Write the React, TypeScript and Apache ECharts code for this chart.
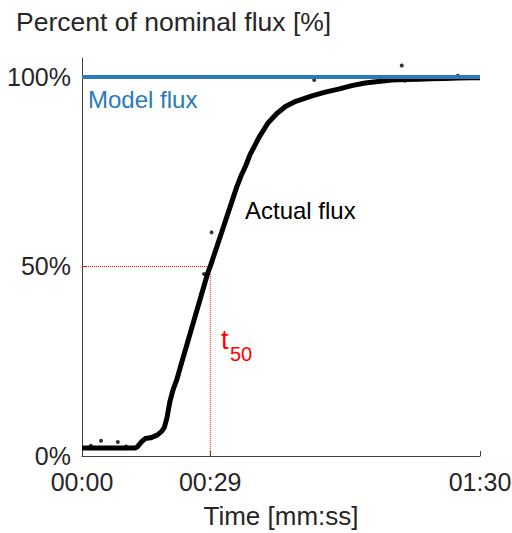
import React, { useEffect, useRef } from "react";
import * as echarts from "echarts";

const fluxTimes = [0, 3, 6, 9, 12, 12.5, 13.5, 14.3, 15.5, 17, 18, 18.6, 19.2, 19.9, 20.6, 21.4, 22.5, 23.5, 24.5, 25.5, 26.5, 27.5, 28.5, 29, 30, 31, 32, 33, 34, 35, 36, 37, 38, 40, 42, 44, 46, 48, 50, 52, 55, 58, 61, 64, 67, 70, 73, 76, 79, 82, 85, 88, 90];
const fluxValues = [2.1, 2.1, 2.1, 2.1, 2.1, 2.4, 3.8, 4.6, 4.8, 5.5, 6.5, 7.5, 10, 14.5, 17.5, 20, 24.5, 28.5, 32.5, 36.5, 40.5, 44.5, 48.5, 50, 53.5, 57, 60.5, 64, 67.5, 71, 74, 76.5, 79.5, 84, 87.8, 90.3, 92.2, 93.4, 94.2, 95, 96, 96.8, 97.7, 98.4, 98.8, 99.2, 99.3, 99.4, 99.5, 99.6, 99.7, 99.8, 99.8];
const outlierTimes = [2, 4.3, 8.1, 10, 27.6, 29.3, 52.5, 72.3, 73, 85];
const outlierValues = [2.7, 4, 3.7, 2.5, 48, 59, 99.2, 103, 99, 100.3];
const modelTimes = [0, 90];
const modelValues = [100, 100];
const t50 = 29;
const xTicks = [0, 29, 90];
const yTicks = [0, 50, 100];

const fmtTime = (v: number) => {
  const m = Math.floor(v / 60);
  const s = Math.round(v - m * 60);
  return `${String(m).padStart(2, "0")}:${String(s).padStart(2, "0")}`;
};

export default function App() {
  const ref = useRef<HTMLDivElement>(null);
  useEffect(() => {
    document.body.style.margin = "0";
    if (!ref.current) return;
    const chart = echarts.init(ref.current, undefined, { renderer: "svg" });
    const font = "'Liberation Sans', Arial, sans-serif";
    const textColor = "#262626";
    chart.setOption({
      animation: false,
      textStyle: { fontFamily: font },
      title: {
        text: "Percent of nominal flux [%]",
        left: 11,
        top: 3,
        textStyle: { fontSize: 26.5, fontWeight: "normal", color: textColor, fontFamily: font },
      },
      grid: { left: 82, right: 32, top: 58, bottom: 77, containLabel: false, outerBoundsMode: "none" },
      xAxis: {
        type: "value",
        min: 0,
        max: 90,
        name: "Time [mm:ss]",
        nameLocation: "middle",
        nameGap: 47,
        nameTextStyle: { fontSize: 26, color: textColor, fontFamily: font },
        axisLine: { lineStyle: { color: "#404040", width: 1 } },
        axisTick: { show: true, inside: true, length: 5, customValues: xTicks, lineStyle: { color: "#404040" } },
        axisLabel: {
          customValues: xTicks,
          formatter: (v: number) => fmtTime(v),
          fontSize: 25,
          color: textColor,
          margin: 13,
          fontFamily: font,
        },
        splitLine: { show: false },
      },
      yAxis: {
        type: "value",
        min: 0,
        max: 105,
        axisLine: { show: true, lineStyle: { color: "#404040", width: 1 } },
        axisTick: { show: true, inside: true, length: 5, customValues: yTicks, lineStyle: { color: "#404040" } },
        axisLabel: {
          customValues: yTicks,
          formatter: (v: number) => `${v}%`,
          fontSize: 25,
          color: textColor,
          margin: 11,
          fontFamily: font,
        },
        splitLine: { show: false },
      },
      series: [
        {
          type: "line",
          data: [[0, 50], [t50, 50], [t50, 0]],
          showSymbol: false,
          lineStyle: { color: "#ff0000", width: 1, type: [1, 1] },
          z: 1,
        },
        {
          type: "line",
          data: fluxTimes.map((t, i) => [t, fluxValues[i]]),
          showSymbol: false,
          lineStyle: { color: "#000000", width: 5 },
          z: 2,
        },
        {
          type: "scatter",
          data: outlierTimes.map((t, i) => [t, outlierValues[i]]),
          symbolSize: 4,
          itemStyle: { color: "#000000" },
          z: 3,
        },
        {
          type: "line",
          data: modelTimes.map((t, i) => [t, modelValues[i]]),
          showSymbol: false,
          lineStyle: { color: "#2a7ab8", width: 4 },
          z: 4,
        },
      ],
      graphic: [
        { type: "text", left: 88, top: 87, style: { text: "Model flux", fontSize: 24, fill: "#2a7ab8", fontFamily: font } },
        { type: "text", left: 245, top: 198, style: { text: "Actual flux", fontSize: 24, fill: "#000000", fontFamily: font } },
        { type: "text", left: 221, top: 326, style: { text: "t", fontSize: 27, fill: "#ff0000", fontFamily: font } },
        { type: "text", left: 230, top: 344, style: { text: "50", fontSize: 20, fill: "#ff0000", fontFamily: font } },
      ],
    });
    return () => chart.dispose();
  }, []);
  return <div ref={ref} style={{ width: 512, height: 533 }} />;
}
